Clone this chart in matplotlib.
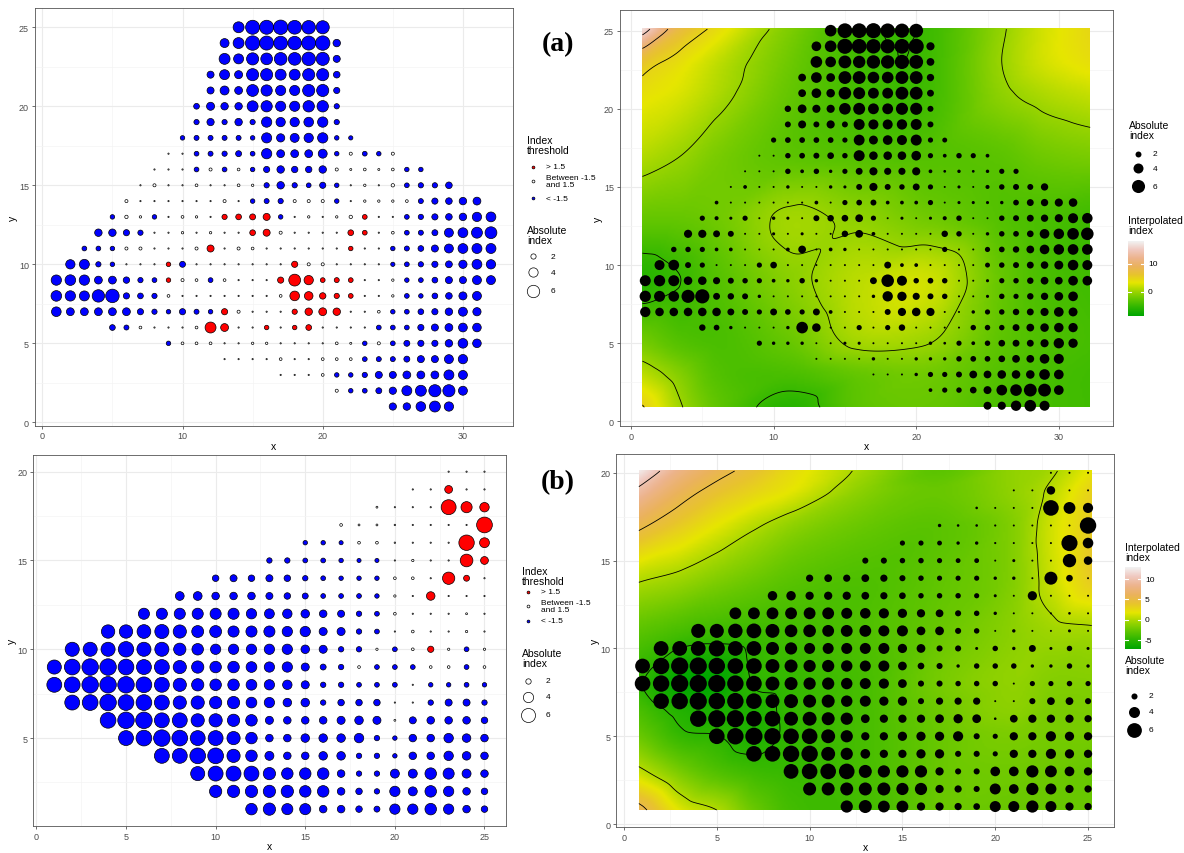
import numpy as np
import matplotlib
matplotlib.use("Agg")
import matplotlib.pyplot as plt
import matplotlib.tri as mtri
from matplotlib.colors import LinearSegmentedColormap

plt.rcParams['font.family'] = ['Liberation Sans', 'DejaVu Sans']

# ---------------- panel (a) point data: one row per y, values start at x0 ----------------
A_ROW_Y = [25, 24, 23, 22, 21, 20, 19, 18, 17, 16, 15, 14, 13, 12, 11, 10, 9, 8, 7, 6, 5, 4, 3, 2, 1]
A_ROW_X0 = [14, 13, 13, 12, 12, 11, 11, 10, 9, 8, 7, 6, 5, 4, 3, 2, 1, 1, 1, 5, 9, 13, 17, 21, 25]
A_ROW_VALUES = [
    [-5.0, -7.2, -7.2, -7.5, -7.0, -6.8, -6.5],
    [-3.8, -5.0, -7.5, -7.2, -7.0, -6.8, -7.2, -7.5, -3.0],
    [-5.0, -4.4, -5.8, -5.5, -6.2, -6.2, -6.8, -6.5, -2.8],
    [-2.8, -4.4, -3.3, -5.8, -5.8, -5.0, -5.0, -5.8, -5.8, -2.6],
    [-2.8, -3.8, -3.2, -5.6, -5.2, -4.5, -4.5, -5.8, -5.8, -2.4],
    [-2.2, -3.3, -3.0, -3.0, -5.0, -5.2, -4.5, -4.5, -5.3, -5.3, -2.0],
    [-2.0, -2.9, -2.0, -3.0, -2.0, -4.6, -4.0, -4.0, -4.2, -4.6, -2.0],
    [-1.7, -1.9, -1.9, -1.9, -1.9, -1.7, -4.5, -3.4, -3.8, -4.0, -4.6, -1.7, -1.6],
    [0.4, 0.5, -1.8, -1.9, -2.0, -2.3, -1.8, -4.6, -3.2, -3.2, -3.2, -3.8, -1.7, 1.2, -1.8, -1.7, 1.2],
    [0.4, 0.3, 0.3, -1.8, 1.2, -1.8, 1.1, -1.7, -2.4, -3.0, -2.5, -2.5, -3.0, 1.2, 0.9, 1.1, 0.9, 1.1, -1.7, -1.7],
    [0.5, 1.2, 0.6, 0.5, 1.1, 0.4, 0.5, 1.1, 1.0, -2.0, -3.0, -2.0, -1.8, -2.4, -1.7, 0.5, 1.0, 0.5, 1.3,
     -1.8, -2.0, -2.0, -2.6],
    [1.2, 0.6, 0.5, 0.5, 0.3, 0.5, 0.5, 1.2, 0.6, -1.7, -1.9, -2.0, 1.2, 1.2, 1.2, -1.7, 0.4, 1.0, 1.0, 1.0,
     1.1, -1.9, -2.4, -2.6, -3.0, -3.2],
    [-1.7, 1.3, 1.0, -1.7, 0.5, 1.1, 1.0, 0.4, 2.0, 2.2, 2.3, 2.8, -1.7, 0.5, 1.0, 0.6, 1.0, 1.3, 1.8, 0.4,
     0.5, -1.8, -2.0, -2.4, -2.6, -3.0, -4.0, -4.3],
    [-3.0, -3.0, -2.4, -2.0, 0.5, 0.3, 1.0, 0.4, 1.0, 0.5, 0.4, 2.2, 2.8, 1.2, 0.3, 0.5, 0.3, 0.6, 2.2, 1.8,
     0.4, 1.1, -1.8, -1.9, -2.3, -3.8, -4.3, -5.0, -5.6],
    [-1.8, -1.8, -1.7, 1.2, 1.2, 0.6, 0.3, 0.3, 1.2, 2.8, 0.3, 1.2, 1.1, 0.5, 0.6, 0.3, 0.5, 0.5, 0.4, 1.7,
     0.3, 0.4, -1.7, -1.9, -2.2, -2.8, -3.8, -4.3, -4.4, -4.4],
    [-4.0, -4.4, -2.0, -1.7, 0.5, 0.5, 0.4, 1.7, -2.3, 0.6, 0.4, 0.4, 0.5, 0.5, 0.3, 0.3, 2.4, 1.2, 1.2, 0.4,
     0.3, 0.5, 0.4, -1.6, -1.8, -2.0, -2.4, -2.7, -3.4, -4.3, -4.0],
    [-4.6, -4.8, -4.6, -3.2, -3.2, -2.5, -2.0, -1.8, 1.7, 1.2, 1.1, -1.8, 1.1, 0.6, 0.4, 0.4, 2.4, 5.6, 4.0,
     1.8, 1.9, 1.8, 0.3, 0.4, 1.0, -1.7, -1.8, -2.2, -2.8, -2.8, -3.8, -3.8],
    [-4.8, -4.6, -4.4, -6.0, -6.8, -2.4, -2.2, -2.0, 1.1, 0.6, 0.6, 0.4, 0.4, 0.4, 0.3, 0.3, 1.1, 4.2, 3.6,
     2.5, 2.0, 1.8, 0.3, 0.5, 1.0, -1.8, -1.7, -2.2, -2.6, -3.3, -3.8],
    [-4.2, -3.2, -3.2, -3.2, -3.2, -3.2, -2.4, -2.0, -1.7, -2.4, -1.9, -1.7, 2.4, 1.2, 0.4, 0.4, 0.5, 2.0, 3.0,
     3.2, 3.0, 0.4, 0.3, 1.1, -1.7, -1.8, -2.2, -2.4, -3.0, -3.8, -3.4],
    [-2.2, -1.9, 1.1, 0.6, 0.4, 0.3, 1.1, 5.0, 3.2, 0.5, 0.5, 1.7, 0.4, 1.7, 2.2, 0.4, 0.4, 0.4, 0.4, -1.8,
     -1.8, -1.8, -2.4, -2.8, -3.2, -3.7, -3.6],
    [-1.7, 1.1, 1.1, 1.1, 0.5, 0.3, 1.0, 1.0, 0.5, 0.3, 0.3, 0.3, 1.1, 0.9, -1.7, 1.2, -1.8, -2.3, -2.4, -2.4,
     -3.0, -4.2, -3.6],
    [0.4, 0.4, 0.4, 0.4, 1.1, 0.4, 0.4, 1.1, 1.1, 1.1, -1.8, -1.9, -1.9, -2.3, -2.8, -2.8, -3.8, -4.0],
    [0.4, 0.4, 0.4, 1.1, -1.7, -1.7, -2.0, -2.8, -2.8, -3.2, -3.2, -3.2, -4.4, -3.8],
    [1.2, -1.7, -1.8, -2.3, -2.9, -4.4, -5.0, -5.8, -5.8, -3.8],
    [-2.9, -3.0, -4.2, -5.0, -4.0],
]

# ---------------- panel (b) point data ----------------
B_ROW_Y = [20, 19, 18, 17, 16, 15, 14, 13, 12, 11, 10, 9, 8, 7, 6, 5, 4, 3, 2, 1]
B_ROW_X0 = [23, 21, 19, 17, 15, 13, 10, 8, 6, 4, 2, 1, 1, 2, 4, 5, 7, 9, 10, 12]
B_ROW_VALUES = [
    [0.4, 0.4, 0.4],
    [0.4, 0.4, 2.9, 0.4, 0.4],
    [1.0, 0.5, 0.5, 0.3, 6.5, 4.4, 3.6],
    [1.2, 1.0, 1.0, 0.9, 0.5, 0.5, 0.3, 0.3, 7.0],
    [-1.7, -1.7, -1.6, 1.2, 1.2, 0.9, 0.5, 0.5, 0.4, 6.8, 3.8],
    [-2.0, -2.0, -1.8, -1.8, -1.7, -1.6, -1.6, 0.5, 1.1, 0.4, 0.3, 5.2, 2.9],
    [-2.4, -2.6, -2.4, -2.6, -2.4, -2.0, -1.8, -1.7, -1.7, -1.7, 1.2, 1.2, 0.4, 5.0, 2.2, 0.4],
    [-3.3, -3.3, -2.8, -2.8, -2.8, -2.6, -2.4, -2.2, -1.8, -1.8, -1.8, -1.7, 1.1, 0.5, 3.2, 0.4, 0.4, 0.3],
    [-4.4, -4.4, -4.4, -4.4, -4.4, -4.4, -4.0, -3.8, -3.6, -3.2, -2.8, -2.6, -2.0, -1.8, 1.2, 0.5, 0.5, 0.4,
     1.0, 0.4],
    [-5.6, -5.6, -5.8, -6.0, -5.5, -4.8, -4.8, -4.4, -4.4, -4.4, -4.0, -4.0, -3.0, -3.0, -2.0, -1.8, 0.5, 1.2,
     0.4, 0.4, 1.1, 0.4],
    [-6.0, -6.0, -6.0, -6.8, -6.0, -6.0, -5.0, -4.6, -4.0, -4.0, -4.0, -4.0, -4.0, -3.2, -3.0, -2.0, -2.0, 1.1,
     -1.8, 1.2, 2.3, 1.1, -1.8, 1.1],
    [-6.0, -7.0, -7.5, -7.5, -7.0, -6.5, -6.5, -5.5, -5.0, -4.6, -4.6, -4.2, -4.0, -4.0, -3.0, -2.2, -2.0, 1.2,
     -1.8, -1.8, -1.8, 1.2, 1.2, -1.8, 1.2],
    [-6.5, -7.0, -7.5, -7.5, -7.5, -7.0, -6.5, -5.5, -5.0, -4.6, -4.6, -4.2, -4.0, -3.6, -3.0, -2.0, -2.0, -1.8,
     -1.8, -1.8, 0.5, -1.7, -1.7, -1.8, -1.7],
    [-6.5, -7.0, -7.5, -7.0, -7.0, -6.5, -5.5, -5.5, -5.0, -5.0, -4.2, -4.0, -3.2, -3.2, -2.0, -2.4, -2.4, -2.4,
     0.8, 0.8, -2.0, -2.6, -2.6, -2.0],
    [-7.0, -7.5, -7.5, -6.5, -6.5, -5.5, -5.5, -5.0, -4.6, -3.0, -2.8, -2.8, -2.8, -3.0, -3.2, -3.0, 1.0, -2.6,
     -2.8, -2.8, -2.8, -2.4],
    [-6.5, -7.0, -7.5, -7.0, -6.5, -6.5, -5.5, -4.6, -2.8, -2.8, -3.2, -3.2, -3.2, -3.6, -2.0, -1.7, -2.8, -2.8,
     -3.6, -3.2, -2.8],
    [-6.5, -6.5, -7.0, -7.0, -5.5, -4.6, -3.4, -2.8, -2.8, -3.2, -3.2, -2.0, -2.0, -1.7, -2.8, -2.8, -3.6, -3.2,
     -2.8],
    [-6.0, -6.5, -6.5, -6.5, -5.0, -4.6, -4.6, -4.6, -2.8, -2.0, -2.0, -3.4, -3.4, -4.6, -4.4, -3.4, -2.8],
    [-5.0, -5.0, -5.0, -5.0, -5.0, -4.6, -4.6, -2.8, -2.4, -2.0, -4.0, -3.4, -4.6, -4.0, -2.8, -2.4],
    [-4.6, -5.0, -4.4, -4.4, -2.8, -2.8, -2.4, -2.2, -4.0, -4.0, -4.6, -4.0, -2.8, -2.4],
]

# ---------------- interpolated index surfaces (coarse readings, rows = y ascending) ----------------
A_FIELD_X = [0.8, 3.5, 6, 11, 16, 21, 26, 29, 32.2]
A_FIELD_Y = [0.9, 3, 5, 9, 13, 17, 21, 23, 25.1]
A_FIELD = [
    [5.2, 0.2, -2.8, -6.0, -3.0, -2.5, -4.0, -4.3, -4.6],
    [1.5, -1.2, -3.5, -4.0, -2.5, -2.0, -3.5, -4.2, -4.6],
    [-1.8, -3.5, -4.0, -2.5, 0.5, 0.0, -3.0, -3.8, -4.3],
    [-6.0, -5.0, -3.5, -0.8, 1.5, 2.3, -2.5, -4.0, -4.6],
    [-2.5, -2.5, -2.0, 0.4, -0.5, -2.0, -3.5, -4.0, -4.6],
    [1.2, 0.0, -1.5, -3.0, -3.5, -3.5, -3.0, -2.0, -1.5],
    [4.0, 2.8, 1.0, -2.5, -4.3, -4.5, -0.5, 1.0, 2.0],
    [6.5, 4.0, 1.8, -2.0, -4.5, -4.6, 0.0, 2.5, 4.0],
    [17.0, 7.5, 4.3, -1.2, -4.6, -4.7, -0.3, 2.5, 4.6],
]
A_FIELD_LIMITS = (-8.7, 18.4)

B_FIELD_X = [0.8, 3, 5, 7, 9, 13, 17, 21, 23, 25.2]
B_FIELD_Y = [0.8, 3, 5, 6.5, 8, 11, 14, 17, 19, 20.1]
B_FIELD = [
    [5.8, 1.5, 0.0, -2.5, -4.0, -4.0, -2.5, -2.5, -2.5, -2.5],
    [0.5, -2.0, -3.5, -4.3, -4.5, -3.8, -2.5, -2.2, -2.3, -2.5],
    [-2.5, -4.6, -4.95, -5.6, -4.7, -3.8, -2.5, -1.8, -2.0, -2.0],
    [-3.8, -5.5, -5.8, -5.6, -4.6, -3.8, -2.3, -1.2, -1.8, -1.8],
    [-4.8, -7.0, -7.0, -4.9, -4.6, -3.8, -2.0, -1.0, -1.5, -1.5],
    [-3.0, -3.8, -4.2, -4.2, -4.0, -3.5, -2.5, -1.2, -0.5, -0.3],
    [0.3, -0.5, -1.5, -2.3, -3.0, -3.5, -2.8, -1.5, 0.8, 3.5],
    [5.5, 3.5, 1.8, 0.3, -1.0, -2.5, -3.0, -1.5, 1.0, 3.5],
    [9.5, 6.2, 4.3, 3.0, 1.8, -1.3, -2.5, -1.0, 0.3, 3.0],
    [12.5, 8.0, 5.8, 4.2, 2.5, -0.5, -3.0, -1.0, -0.3, 2.0],
]
B_FIELD_LIMITS = (-7.2, 13.0)
CONTOUR_LEVELS = [-5, 0, 5, 10, 15]

TERRAIN = ["#00A600", "#2DB600", "#63C600", "#A0D600", "#E6E600",
           "#E8C32E", "#EBB25E", "#EDB48E", "#F0C9C0", "#F2F2F2"]
THRESH_LABELS = ["> 1.5", "Between -1.5\nand 1.5", "< -1.5"]
THRESH_COLORS = ["#FF0000", "#FFFFFF", "#0000FF"]
SIZE_BREAKS = [2, 4, 6]

W, H = 1184, 854
fig = plt.figure(figsize=(W / 100, H / 100), dpi=100)
cmap = LinearSegmentedColormap.from_list("terrain10", TERRAIN)


def add_ax(l, r, t, b):
    return fig.add_axes([l / W, 1 - b / H, (r - l) / W, (b - t) / H])


def expand(x0s, rows_y, rows_v):
    xs, ys, vs = [], [], []
    for y, x0, vals in zip(rows_y, x0s, rows_v):
        for i, v in enumerate(vals):
            xs.append(x0 + i)
            ys.append(y)
            vs.append(v)
    return np.array(xs, float), np.array(ys, float), np.array(vs, float)


def diam_a(v):
    return np.maximum(2.0, -3.8 + 6.9 * np.sqrt(np.abs(v)))


def diam_b(v):
    return np.maximum(2.0, -5.8 + 8.4 * np.sqrt(np.abs(v)))


def area(d_px, lw=0.0):
    return np.maximum(0.5, d_px * 0.72 - lw) ** 2


def style(ax, xlim, ylim, xt, yt, ymin=None):
    ax.set_xticks(xt)
    ax.set_yticks(yt)
    xm = [(a + b) / 2 for a, b in zip(xt[:-1], xt[1:])] + [xt[-1] + (xt[1] - xt[0]) / 2]
    ym = ymin if ymin is not None else \
        [(a + b) / 2 for a, b in zip(yt[:-1], yt[1:])] + [yt[-1] + (yt[1] - yt[0]) / 2]
    ax.set_xticks(xm, minor=True)
    ax.set_yticks(ym, minor=True)
    ax.set_xlim(xlim)
    ax.set_ylim(ylim)
    ax.grid(which='major', color='#EBEBEB', lw=0.8)
    ax.grid(which='minor', color='#F4F4F4', lw=0.5)
    ax.set_axisbelow(True)
    ax.tick_params(which='minor', length=0)
    ax.tick_params(which='major', length=2.5, width=0.5, color='#333333',
                   labelsize=6.5, labelcolor='#4D4D4D', pad=1.5)
    for sp in ax.spines.values():
        sp.set_color('#555555')
        sp.set_linewidth(0.6)
    ax.set_xlabel('x', fontsize=7.5, labelpad=0.5)
    ax.set_ylabel('y', fontsize=7.5, labelpad=0.5)


def field(xk, yk, Z, ext, n=240):
    nx, ny = len(xk), len(yk)
    X, Y = np.meshgrid(xk, yk)
    tris = []
    for j in range(ny - 1):
        for i in range(nx - 1):
            p = j * nx + i
            tris.append([p, p + 1, p + nx + 1])
            tris.append([p, p + nx + 1, p + nx])
    tri = mtri.Triangulation(X.ravel(), Y.ravel(), np.array(tris))
    interp = mtri.CubicTriInterpolator(tri, np.asarray(Z, float).ravel(), kind='geom')
    xf = np.linspace(ext[0], ext[1], n)
    yf = np.linspace(ext[2], ext[3], n)
    XF, YF = np.meshgrid(xf, yf)
    ZF = np.ma.filled(interp(XF, YF), np.nan)
    return xf, yf, ZF


def threshold_colors(v):
    return np.where(v > 1.5, THRESH_COLORS[0], np.where(v < -1.5, THRESH_COLORS[2], THRESH_COLORS[1]))


ax_x, ay_x, av = expand(A_ROW_X0, A_ROW_Y, A_ROW_VALUES)
bx, by, bv = expand(B_ROW_X0, B_ROW_Y, B_ROW_VALUES)

# ---------------- (a) left ----------------
ax1 = add_ax(34.6, 512.7, 9.3, 426.5)
style(ax1, (-0.55, 33.55), (-0.2, 26.2), [0, 10, 20, 30], [0, 5, 10, 15, 20, 25])
ax1.scatter(ax_x, ay_x, s=area(diam_a(av), 0.5), c=threshold_colors(av), edgecolors='black',
            linewidths=0.5, zorder=3)

# ---------------- (a) right ----------------
ax2 = add_ax(619.6, 1113, 11.2, 427.2)
style(ax2, (-0.8, 33.8), (-0.31, 26.31), [0, 10, 20, 30], [0, 5, 10, 15, 20, 25])
extA = (A_FIELD_X[0], A_FIELD_X[-1], A_FIELD_Y[0], A_FIELD_Y[-1])
xf, yf, ZA = field(A_FIELD_X, A_FIELD_Y, A_FIELD, extA)
ax2.imshow(ZA, extent=extA, origin='lower', cmap=cmap, vmin=A_FIELD_LIMITS[0], vmax=A_FIELD_LIMITS[1],
           aspect='auto', interpolation='bilinear', zorder=1)
ax2.contour(xf, yf, ZA, levels=CONTOUR_LEVELS, colors='black', linewidths=0.6,
            linestyles='solid', zorder=2)
ax2.scatter(ax_x, ay_x, s=area(diam_a(av)), c='black', linewidths=0, zorder=3)

# ---------------- (b) left ----------------
ax3 = add_ax(32.8, 506, 455.8, 827)
style(ax3, (-0.2, 26.2), (0.05, 20.95), [0, 5, 10, 15, 20, 25], [5, 10, 15, 20],
      ymin=[2.5, 7.5, 12.5, 17.5])
ax3.scatter(bx, by, s=area(diam_b(bv), 0.5), c=threshold_colors(bv), edgecolors='black',
            linewidths=0.5, zorder=3)

# ---------------- (b) right ----------------
ax4 = add_ax(616.2, 1114.4, 455, 828)
style(ax4, (-0.42, 26.42), (-0.165, 21.07), [0, 5, 10, 15, 20, 25], [0, 5, 10, 15, 20])
extB = (B_FIELD_X[0], B_FIELD_X[-1], B_FIELD_Y[0], B_FIELD_Y[-1])
xfb, yfb, ZB = field(B_FIELD_X, B_FIELD_Y, B_FIELD, extB)
ax4.imshow(ZB, extent=extB, origin='lower', cmap=cmap, vmin=B_FIELD_LIMITS[0], vmax=B_FIELD_LIMITS[1],
           aspect='auto', interpolation='bilinear', zorder=1)
ax4.contour(xfb, yfb, ZB, levels=CONTOUR_LEVELS, colors='black', linewidths=0.6,
            linestyles='solid', zorder=2)
ax4.scatter(bx, by, s=area(diam_b(bv)), c='black', linewidths=0, zorder=3)

# ---------------- legends (overlay in pixel coordinates) ----------------
ov = fig.add_axes([0, 0, 1, 1], zorder=10)
ov.set_xlim(0, W)
ov.set_ylim(H, 0)
ov.axis('off')
TITLE_FS = 7.5
LAB_FS = 6


def thresh_legend(x, y_title, ys):
    ov.text(x, y_title, "Index\nthreshold", fontsize=TITLE_FS, va='top', ha='left', linespacing=1.0)
    for yy, lab, col in zip(ys, THRESH_LABELS, THRESH_COLORS):
        ov.scatter([x + 6], [yy], s=area(3.5, 0.5), c=col, edgecolors='black', linewidths=0.5)
        ov.text(x + 19, yy, lab, fontsize=LAB_FS, va='center', ha='left', linespacing=0.95)


def size_legend(x, y_title, ys, dfun, filled):
    ov.text(x, y_title, "Absolute\nindex", fontsize=TITLE_FS, va='top', ha='left', linespacing=1.0)
    for yy, b in zip(ys, SIZE_BREAKS):
        d = float(dfun(b))
        if filled:
            ov.scatter([x + 9], [yy], s=area(d), c='black', linewidths=0)
        else:
            ov.scatter([x + 6], [yy], s=area(d, 0.5), c='white', edgecolors='black', linewidths=0.5)
        ov.text(x + 24, yy, str(b), fontsize=LAB_FS, va='center', ha='left')


def colorbar(x0, x1, y0, y1, lims, ticks, y_title):
    ov.text(x0, y_title, "Interpolated\nindex", fontsize=TITLE_FS, va='top', ha='left', linespacing=1.0)
    grad = np.linspace(lims[1], lims[0], 200).reshape(-1, 1)
    ov.imshow(grad, extent=(x0, x1, y1, y0), cmap=cmap, vmin=lims[0], vmax=lims[1], aspect='auto')
    for t in ticks:
        yy = y1 - (t - lims[0]) / (lims[1] - lims[0]) * (y1 - y0)
        wdt = (x1 - x0) / 5
        ov.plot([x0, x0 + wdt], [yy, yy], color='white', lw=0.8)
        ov.plot([x1 - wdt, x1], [yy, yy], color='white', lw=0.8)
        ov.text(x1 + 4, yy, str(t), fontsize=LAB_FS, va='center', ha='left')
    ov.set_xlim(0, W)
    ov.set_ylim(H, 0)


thresh_legend(527, 136, [167.7, 182.3, 199.3])
size_legend(527, 226, [257.3, 273.3, 291.7], diam_a, False)
size_legend(1129, 121, [155, 169.3, 187.3], diam_a, True)
colorbar(1128.3, 1144, 241.7, 316.7, A_FIELD_LIMITS, [10, 0], 215.5)

thresh_legend(522, 567, [593, 607, 622])
size_legend(522, 649, [682, 698, 716], diam_b, False)
colorbar(1125, 1141, 568, 650, B_FIELD_LIMITS, [10, 5, 0, -5], 543)
size_legend(1125, 656, [697, 713, 731], diam_b, True)

ov.text(558, 45, "(a)", fontsize=20, fontweight='bold', family='Liberation Serif', ha='center', va='center')
ov.text(558, 483, "(b)", fontsize=20, fontweight='bold', family='Liberation Serif', ha='center', va='center')

fig.savefig("out.png", dpi=100, facecolor='white')
